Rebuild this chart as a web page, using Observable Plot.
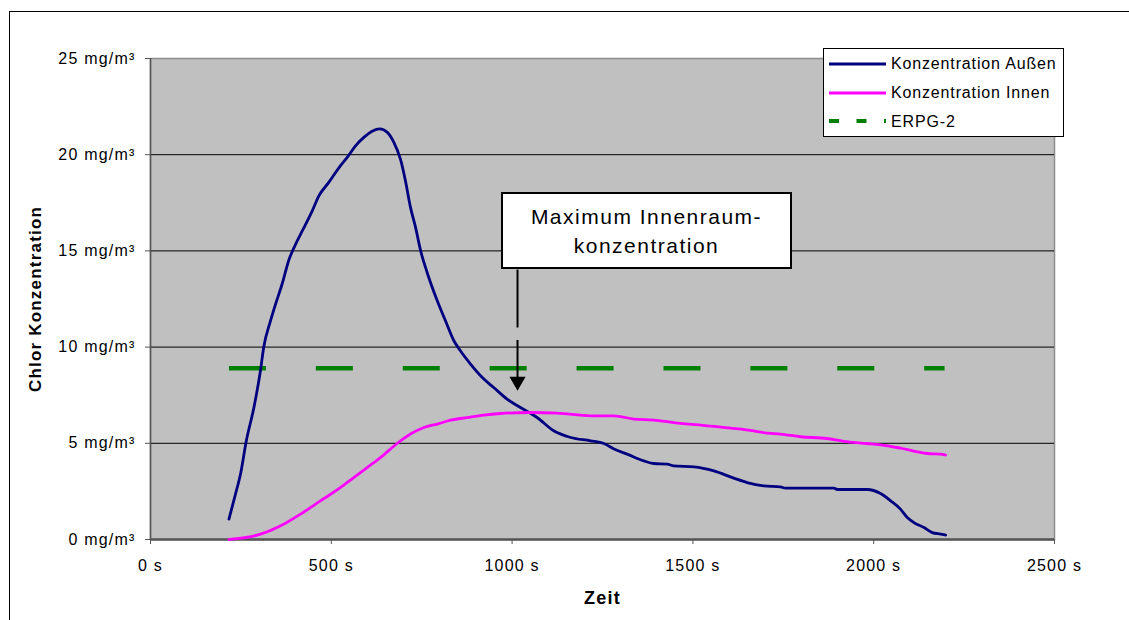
<!DOCTYPE html>
<html>
<head>
<meta charset="utf-8">
<script src="https://cdn.jsdelivr.net/npm/d3@7"></script>
<script src="https://cdn.jsdelivr.net/npm/@observablehq/plot@0.6"></script>
<style>
  html, body { margin: 0; padding: 0; background: #fff; }
  #wrap { position: relative; width: 1129px; height: 620px; overflow: hidden; background: #fff;
          font-family: "Liberation Sans", Arial, sans-serif; color: #000; }
  #frame { position: absolute; left: 9px; top: 11px; width: 1300px; height: 800px; border: 1px solid #000; }
  #chart { position: absolute; left: 0; top: 0; }
  #legend { position: absolute; left: 823px; top: 48px; width: 241px; height: 89px; box-sizing: border-box;
            border: 1px solid #000; background: #fff; padding-left: 5px; font-size: 16px; letter-spacing: 0.85px; }
  #legend .row { height: 29px; line-height: 29px; white-space: nowrap; }
  #legend svg { vertical-align: top; margin-right: 5px; }
  #annot { position: absolute; left: 501px; top: 192px; width: 291px; height: 77px; box-sizing: border-box;
           border: 2px solid #000; background: #fff; padding-top: 8px; text-align: center;
           font-size: 21px; line-height: 29px; letter-spacing: 1.5px; }
</style>
</head>
<body>
<div id="wrap">
  <div id="frame"></div>
  <div id="chart"></div>
  <div id="legend"></div>
  <div id="annot"></div>
</div>
<script>
// ---- data ----
const seriesNames = ["Konzentration Außen", "Konzentration Innen", "ERPG-2"];
const seriesColors = ["#000080", "#ff00ff", "#008000"];

const xTicks = [0, 500, 1000, 1500, 2000, 2500];
const yTicks = [0, 5, 10, 15, 20, 25];
const xUnit = " s";
const yUnit = " mg/m³";
const xTitle = "Zeit";
const yTitle = "Chlor Konzentration";

// Konzentration Außen (time in s, mg/m³)
const outsideTime = [217,235,249,265,286,304,313,332,346,364,382,406,420,447,466,493,525,544,567,590,613,634,655,673,691,705,719,733,747,765,793,816,839,857,885,922,949,986,1023,1069,1115,1162,1217,1254,1282,1318,1364,1392,1429,1447,1503,1558,1613,1650,1696,1742,1756,1890,1899,1982,2019,2047,2074,2093,2111,2139,2162,2185,2199];
const outsideConc = [1.06,2.36,3.4,5.13,6.86,8.77,9.98,11.37,12.24,13.28,14.49,15.53,16.05,17.07,17.87,18.56,19.42,19.86,20.46,20.9,21.22,21.34,21.16,20.64,19.78,18.65,17.26,16.22,15.01,13.88,12.41,11.36,10.33,9.81,9.12,8.34,7.9,7.3,6.86,6.34,5.65,5.3,5.13,4.99,4.7,4.44,4.09,3.95,3.92,3.83,3.78,3.57,3.19,2.96,2.79,2.74,2.67,2.67,2.6,2.6,2.39,2.01,1.58,1.14,0.88,0.62,0.36,0.28,0.23];

// Konzentration Innen
const insideTime = [217,240,300,360,415,470,525,562,599,636,682,719,756,793,830,876,922,968,1050,1125,1217,1282,1337,1392,1447,1540,1604,1668,1705,1742,1798,1871,1917,1982,2019,2074,2148,2185,2199];
const insideConc = [0.0,0.04,0.25,0.71,1.32,2.01,2.7,3.22,3.74,4.26,4.99,5.48,5.82,6.0,6.2,6.34,6.47,6.55,6.6,6.57,6.43,6.43,6.26,6.21,6.08,5.91,5.79,5.65,5.53,5.48,5.34,5.25,5.1,4.99,4.92,4.75,4.47,4.44,4.39];

// ERPG-2 threshold
const erpgTime = [217, 2196];
const erpgConc = [8.9, 8.9];

// annotation "Maximum Innenraumkonzentration"
const annotText = ["Maximum Innenraum-", "konzentration"];
const annotTime = 1015;
const annotLine1 = [14.03, 11.02];
const annotLine2 = [10.37, 8.22];

// ---- build tables ----
const outside = outsideTime.map((t, i) => ({t, c: outsideConc[i]}));
const inside = insideTime.map((t, i) => ({t, c: insideConc[i]}));
const erpg = erpgTime.map((t, i) => ({t, c: erpgConc[i]}));
const annotLinks = [
  {x1: annotTime, y1: annotLine1[0], x2: annotTime, y2: annotLine1[1]},
  {x1: annotTime, y1: annotLine2[0], x2: annotTime, y2: annotLine2[1]}
];
const annotHead = [{t: annotTime, c: annotLine2[1]}];

const chart = Plot.plot({
  width: 1129,
  height: 620,
  marginLeft: 150,
  marginRight: 75,
  marginTop: 58,
  marginBottom: 81,
  style: {fontFamily: "'Liberation Sans', Arial, sans-serif", fontSize: "16px", letterSpacing: "1.2px", color: "#000", background: "transparent", overflow: "visible"},
  x: {domain: [0, 2500]},
  y: {domain: [0, 25]},
  marks: [
    Plot.frame({fill: "#c0c0c0", stroke: "#8c8c8c", strokeWidth: 1.5}),
    Plot.gridY([5, 10, 15, 20], {stroke: "#000", strokeOpacity: 1, strokeWidth: 1}),
    Plot.ruleX([0], {stroke: "#555", strokeWidth: 1.5}),
    Plot.ruleY([0], {stroke: "#555", strokeWidth: 2.5}),
    Plot.axisX({ticks: xTicks, tickFormat: d => d + xUnit, tickSize: 5, tickPadding: 15, stroke: "#555", label: null, fontSize: 16}),
    Plot.axisY({ticks: yTicks, tickFormat: d => d + yUnit, tickSize: 5, tickPadding: 10, stroke: "#555", label: null, fontSize: 16}),
    Plot.line(erpg, {x: "t", y: "c", stroke: seriesColors[2], strokeWidth: 4.5, strokeDasharray: "37 49.9", strokeLinecap: "butt"}),
    Plot.line(outside, {x: "t", y: "c", stroke: seriesColors[0], strokeWidth: 2.8, curve: "monotone-x"}),
    Plot.line(inside, {x: "t", y: "c", stroke: seriesColors[1], strokeWidth: 2.8, curve: "monotone-x"}),
    Plot.link(annotLinks, {x1: "x1", y1: "y1", x2: "x2", y2: "y2", stroke: "#000", strokeWidth: 2}),
    Plot.dot(annotHead, {x: "t", y: "c", symbol: "triangle", r: 6, rotate: 180, fill: "#000", stroke: null}),
    Plot.text([yTitle], {text: d => d, frameAnchor: "left", dx: -115, rotate: -90, textAnchor: "middle", fontWeight: "bold", fontSize: 17}),
    Plot.text([xTitle], {text: d => d, frameAnchor: "bottom", dy: 64, textAnchor: "middle", fontWeight: "bold", fontSize: 18})
  ]
});
document.getElementById("chart").appendChild(chart);

// legend
const legend = document.getElementById("legend");
const swatchY = [15, 15, 14];
seriesNames.forEach((name, i) => {
  const row = document.createElement("div");
  row.className = "row";
  const dash = i === 2 ? ' stroke-dasharray="10 17.5"' : "";
  const sw = i === 2 ? 4 : 3;
  row.innerHTML = `<svg width="57" height="29"><line x1="0" x2="57" y1="${swatchY[i]}" y2="${swatchY[i]}" stroke="${seriesColors[i]}" stroke-width="${sw}"${dash}/></svg>`;
  row.appendChild(document.createTextNode(name));
  legend.appendChild(row);
});

// annotation box
const annot = document.getElementById("annot");
annotText.forEach(line => {
  const d = document.createElement("div");
  d.textContent = line;
  annot.appendChild(d);
});
</script>
</body>
</html>
